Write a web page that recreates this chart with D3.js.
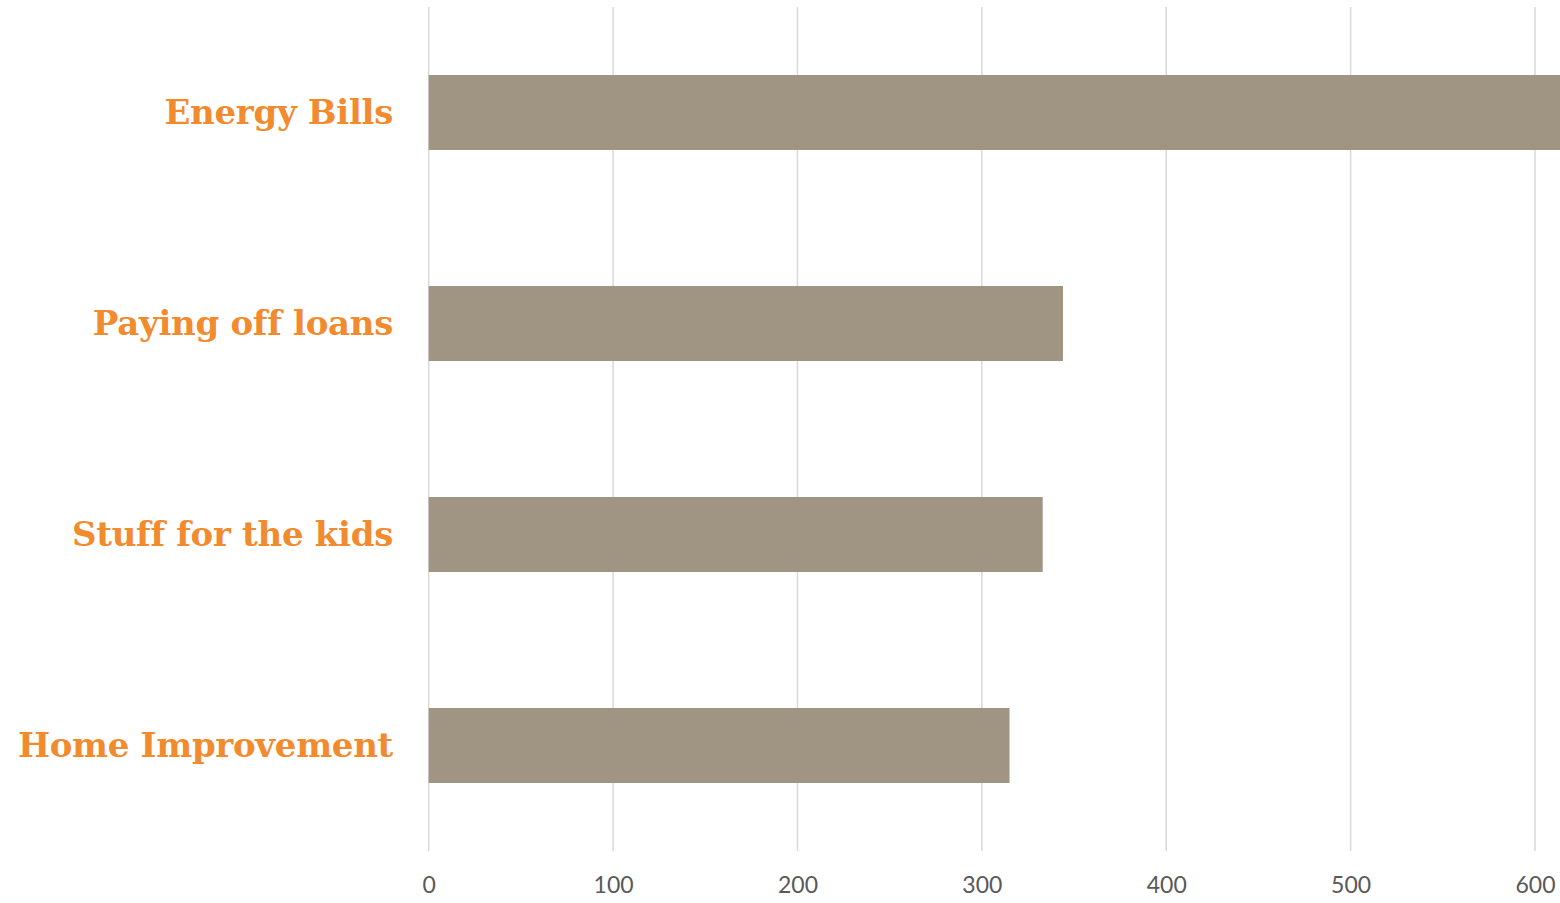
<!DOCTYPE html>
<html>
<head>
<meta charset="utf-8">
<script src="https://cdn.jsdelivr.net/npm/d3@7"></script>
<style>
  body { margin: 0; background: #fff; overflow: hidden; }
  svg { display: block; }
</style>
</head>
<body>
<svg width="1560" height="903"></svg>
<script>
// chart data
var categories = ["Energy Bills", "Paying off loans", "Stuff for the kids", "Home Improvement"];
var values = [620, 344, 333, 315];
var tickValues = [0, 100, 200, 300, 400, 500, 600];

function main() {
	var svg = d3.select("svg");
	var plotTop = 7, plotBottom = 851;

	var xScale = d3.scaleLinear().domain([0, 600]).range([428.7, 1535]);
	var yScale = d3.scaleBand().domain(categories)
		.range([plotTop, plotBottom])
		.paddingInner(136 / 211).paddingOuter(68 / 211);

	// gridlines
	svg.append("g").selectAll("line").data(tickValues).enter().append("line")
		.attr("x1", d => xScale(d)).attr("x2", d => xScale(d))
		.attr("y1", plotTop).attr("y2", plotBottom)
		.attr("stroke", "#d9d9d9").attr("stroke-width", 1.5);

	// bars
	svg.append("g").selectAll("rect").data(values).enter().append("rect")
		.attr("x", xScale(0))
		.attr("y", (d, i) => yScale(categories[i]))
		.attr("width", d => xScale(d) - xScale(0))
		.attr("height", yScale.bandwidth())
		.attr("fill", "#a09482");

	// x axis labels
	var xAxis = d3.axisBottom(xScale).tickValues(tickValues).tickSize(0).tickPadding(0);
	var gx = svg.append("g").attr("transform", "translate(0,877)").call(xAxis);
	gx.select(".domain").remove();
	gx.selectAll("text")
		.attr("dy", "0.71em")
		.style("font-family", "Lato, 'Open Sans', sans-serif")
		.style("font-size", "23px")
		.attr("fill", "#595959");

	// category labels
	svg.append("g").selectAll("text").data(categories).enter().append("text")
		.attr("x", 393)
		.attr("y", d => yScale(d) + yScale.bandwidth() / 2)
		.attr("dy", "0.35em")
		.attr("text-anchor", "end")
		.style("font-family", "'DejaVu Serif', serif")
		.style("font-weight", "bold")
		.style("font-size", "34px")
		.style("letter-spacing", "-0.3px")
		.attr("fill", "#f28a2e")
		.text(d => d);
}

window.onload = function() {
	main()
};
</script>
</body>
</html>
